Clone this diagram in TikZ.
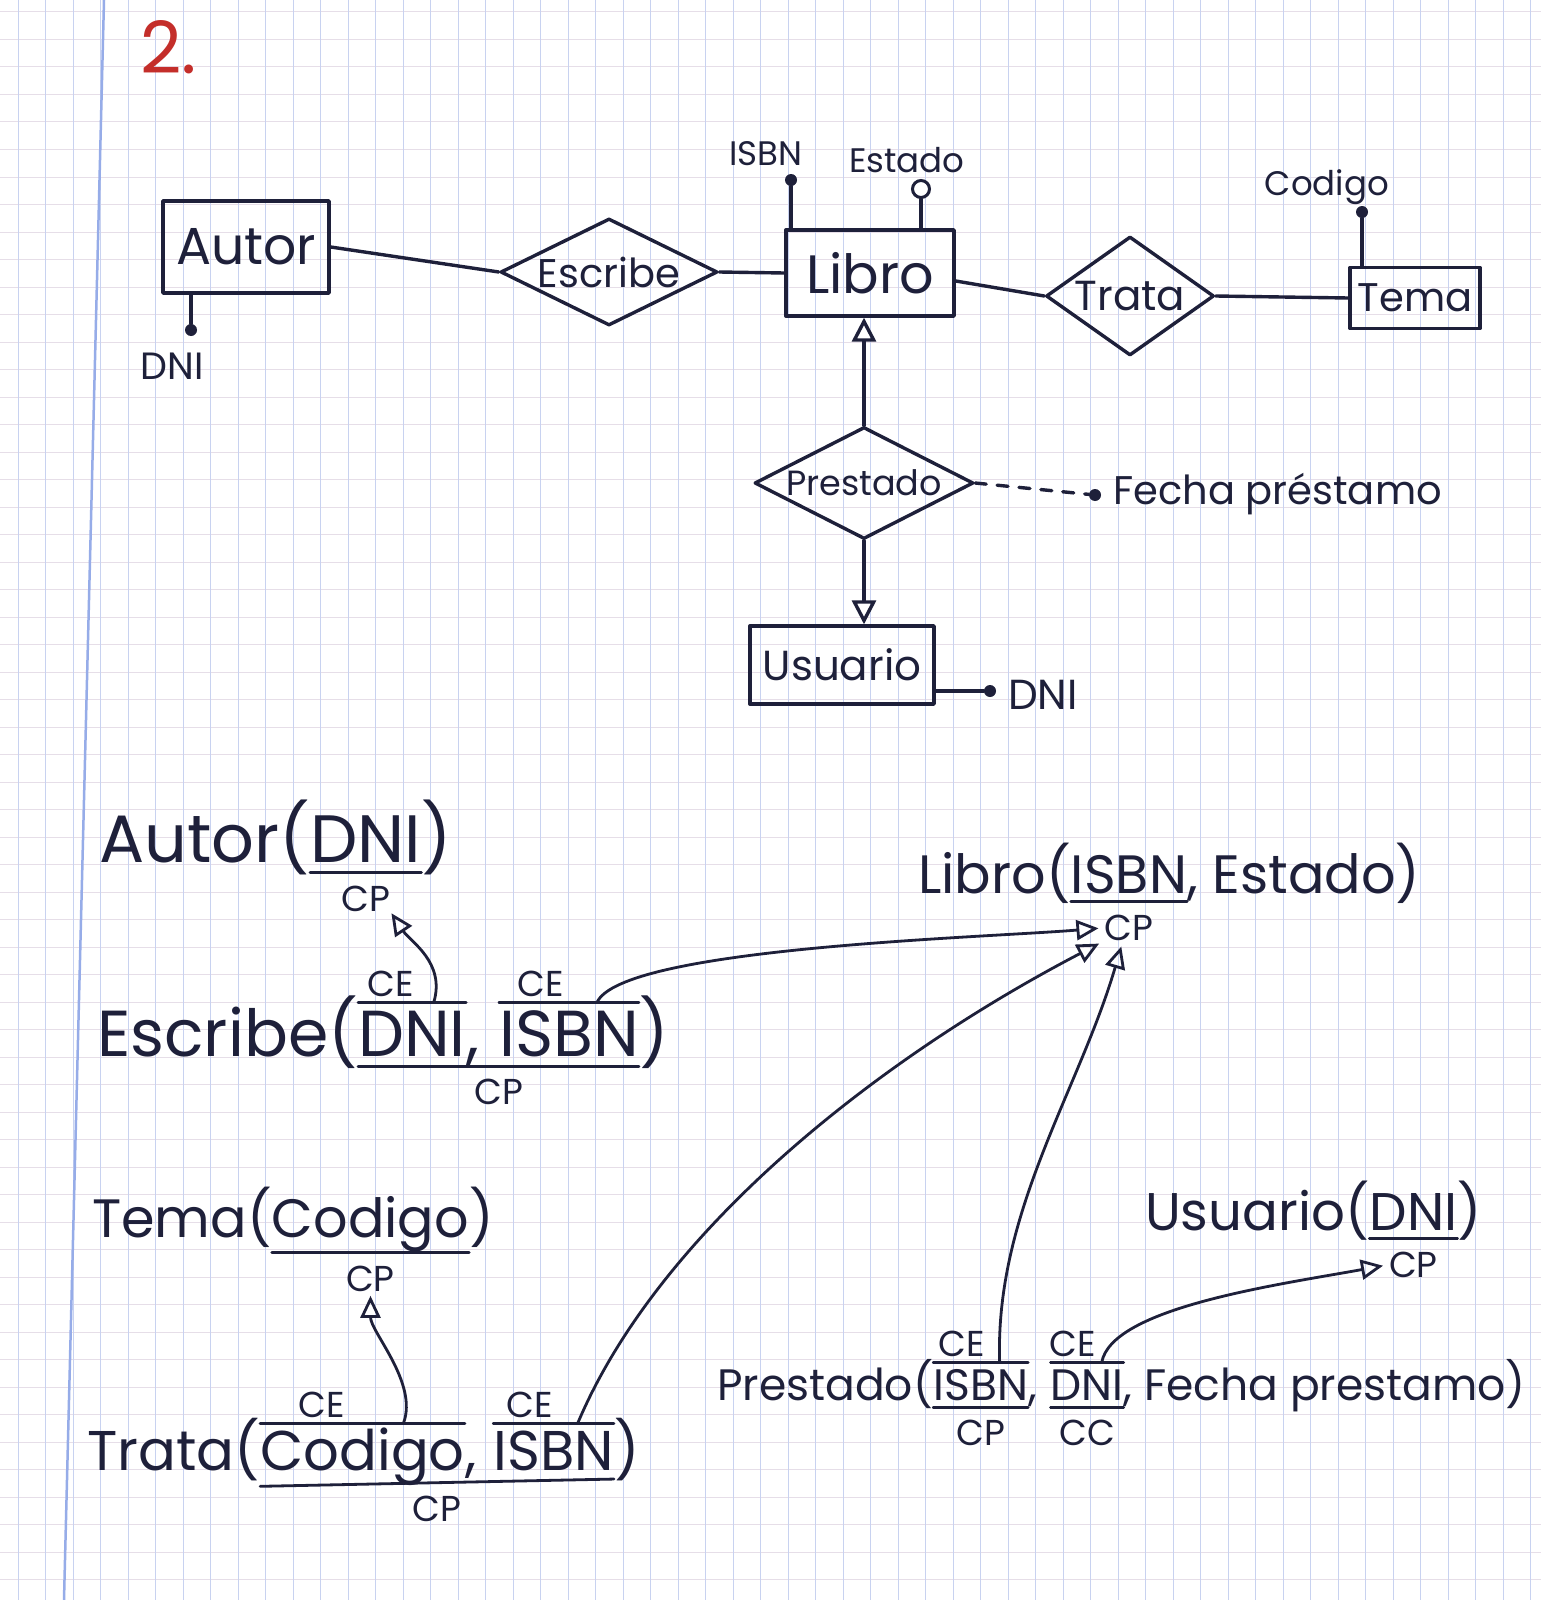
\documentclass[tikz,border=0pt]{standalone}
\usepackage{fontspec}
\setmainfont{Poppins}
\usetikzlibrary{shapes.geometric,arrows.meta,calc}
\definecolor{ink}{RGB}{30,32,58}
\definecolor{redink}{RGB}{196,46,42}
\definecolor{gridv}{RGB}{200,210,240}
\definecolor{gridh}{RGB}{230,222,232}
\definecolor{marginline}{RGB}{150,172,232}

% overline over a key word, with its CE tag and the start point of its reference arrow
\newcommand\ovkey[1]{%
  \draw[inkthin] ([yshift=4pt]#1.north west) coordinate (#1-ol) -- ([yshift=4pt]#1.north east) coordinate (#1-or);
  \node[keytag,anchor=south] (#1-ce) at ($(#1-ol)!0.3!(#1-or)+(0,-5)$) {CE};
  \coordinate (#1-tail) at ($(#1-ol)!0.7!(#1-or)$);
}
% underline from word #1 to word #2 with the tag #3 below it
\newcommand\unkey[3]{%
  \draw[inkthin] ([yshift=-1pt]#1.south west) coordinate (#1-ul) -- ([yshift=-1pt]#2.south east) coordinate (#1-ur);
  \node[keytag,anchor=north] (#1-cp) at ($(#1-ul)!0.5!(#1-ur)+(0,13)$) {#3};
}

\begin{document}
\begin{tikzpicture}[x=1pt,y=-1pt,
  fs/.style={font=\fontsize{#1}{#1}\selectfont},
  inkline/.style={draw=ink,line width=3.4pt,line cap=round,line join=round},
  inkthin/.style={draw=ink,line width=2.8pt,line cap=round,line join=round},
  entity/.style={inkline,rectangle,inner sep=0pt,text=ink},
  relship/.style={inkline,diamond,inner sep=0pt},
  lbl/.style={text=ink,inner sep=0pt},
  keydot/.style={circle,fill=ink,inner sep=0pt,minimum size=12pt},
  optdot/.style={circle,draw=ink,line width=3pt,fill=white,inner sep=0pt,minimum size=17pt},
  isa/.style={-{Triangle[open,length=24pt,width=24pt]}},
  word/.style={text=ink,inner sep=0pt,anchor=base west,
    execute at begin node={\rule[-0.14\baselineskip]{0pt}{0.90\baselineskip}}},
  keytag/.style={text=ink,inner sep=0pt,fs=36},
  fk/.style={inkthin,-{Triangle[open,length=22pt,width=20pt]}},
]
% paper
\fill[white] (0,0) rectangle (1541,1600);
\useasboundingbox (0,0) rectangle (1541,1600);
\foreach \y in {12,39.5,...,1600} \draw[gridh,line width=1pt] (0,\y) -- (1541,\y);
\foreach \x in {18,45.5,...,1541} \draw[gridv,line width=1pt] (\x,0) -- (\x,1600);
\draw[marginline,line width=2.5pt] (104,0) -- (64,1600);

% exercise number
\node[text=redink,fs=72,anchor=base west,inner sep=0pt] (num) at (140,74) {2.};

% ---------------- entity-relationship diagram ----------------
\node[entity,fs=52,minimum width=166pt,minimum height=92pt] (autor) at (246,247) {Autor};
\node[relship,minimum width=217pt,minimum height=107pt] (escribe) at (609,272) {};
\node[lbl,fs=40] at (escribe) {Escribe};
\node[entity,fs=54,minimum width=168pt,minimum height=86pt] (libro) at (870,273) {Libro};
\node[relship,minimum width=168pt,minimum height=119pt] (trata) at (1130,296) {};
\node[lbl,fs=42] at (trata) {Trata};
\node[entity,fs=40,minimum width=130pt,minimum height=61pt] (tema) at (1415,298) {Tema};
\node[relship,minimum width=219pt,minimum height=112pt] (prestado) at (864,483) {};
\node[lbl,fs=35] at (prestado) {Prestado};
\node[entity,fs=42,minimum width=184pt,minimum height=78pt] (usuario) at (842,665) {Usuario};

\draw[inkline] (autor.east) -- (escribe.west);
\draw[inkline] (escribe.east) -- (libro.west);
\draw[inkline] ([yshift=-8pt]libro.east) -- (trata.west);
\draw[inkline] (trata.east) -- (tema.west);
\draw[inkline,isa] (prestado.north) -- (prestado.north |- libro.south);
\draw[inkline,isa] (prestado.south) -- (prestado.south |- usuario.north);

% attributes
\node[keydot] (autorDni) at (191,330) {};
\draw[inkline] (autorDni) -- (autorDni |- autor.south);
\node[lbl,fs=38] (autorDniLbl) at (172,366) {DNI};

\node[keydot] (libroIsbn) at (791,180) {};
\draw[inkline] (libroIsbn) -- (libroIsbn |- libro.north);
\node[lbl,fs=34] (libroIsbnLbl) at (766,154) {ISBN};

\node[optdot] (libroEstado) at (921,189) {};
\draw[inkline] (libroEstado.south) -- (libroEstado |- libro.north);
\node[lbl,fs=34] (libroEstadoLbl) at (907,160) {Estado};

\node[keydot] (temaCod) at (1362,212) {};
\draw[inkline] (temaCod) -- (temaCod |- tema.north);
\node[lbl,fs=34] (temaCodLbl) at (1327,187) {Codigo};

\node[keydot] (fecha) at (1095,495) {};
\draw[inkline,dash pattern=on 11pt off 11pt] (prestado.east) -- (fecha);
\node[lbl,fs=40,anchor=west] (fechaLbl) at (1113,494) {Fecha préstamo};

\node[keydot] (usuarioDni) at (990,691) {};
\draw[inkline] (usuarioDni -| usuario.east) -- (usuarioDni);
\node[lbl,fs=42,anchor=west] (usuarioDniLbl) at (1008,695) {DNI};

% ---------------- relational schema ----------------
% Autor(DNI)
\node[word,fs=67] (rAutor) at (99,862) {Autor(};
\node[word,fs=67,at=(rAutor.base east)] (rAutorDni) {DNI};
\node[word,fs=67,at=(rAutorDni.base east)] (rAutorEnd) {)};
\unkey{rAutorDni}{rAutorDni}{CP}

% Libro(ISBN, Estado)
\node[word,fs=54] (rLibro) at (918,893) {Libro(};
\node[word,fs=54,at=(rLibro.base east)] (rLibroIsbn) {ISBN};
\node[word,fs=54,at=(rLibroIsbn.base east)] (rLibroEnd) {, Estado)};
\unkey{rLibroIsbn}{rLibroIsbn}{CP}

% Escribe(DNI, ISBN)
\node[word,fs=65] (rEsc) at (97,1056) {Escribe(};
\node[word,fs=65,at=(rEsc.base east)] (rEscDni) {DNI};
\node[word,fs=65,at=(rEscDni.base east)] (rEscSep) {,\kern0.3em};
\node[word,fs=65,at=(rEscSep.base east)] (rEscIsbn) {ISBN};
\node[word,fs=65,at=(rEscIsbn.base east)] (rEscEnd) {)};
\ovkey{rEscDni}
\ovkey{rEscIsbn}
\unkey{rEscDni}{rEscIsbn}{CP}

% Tema(Codigo)
\node[word,fs=54] (rTema) at (92,1237) {Tema(};
\node[word,fs=54,at=(rTema.base east)] (rTemaCod) {Codigo};
\node[word,fs=54,at=(rTemaCod.base east)] (rTemaEnd) {)};
\unkey{rTemaCod}{rTemaCod}{CP}

% Usuario(DNI)
\node[word,fs=53] (rUsu) at (1145,1230) {Usuario(};
\node[word,fs=53,at=(rUsu.base east)] (rUsuDni) {DNI};
\node[word,fs=53,at=(rUsuDni.base east)] (rUsuEnd) {)};
\unkey{rUsuDni}{rUsuDni}{CP}

% Prestado(ISBN, DNI, Fecha prestamo)
\node[word,fs=44] (rPre) at (717,1400) {Prestado(};
\node[word,fs=44,at=(rPre.base east)] (rPreIsbn) {ISBN};
\node[word,fs=44,at=(rPreIsbn.base east)] (rPreSep) {,\kern0.3em};
\node[word,fs=44,at=(rPreSep.base east)] (rPreDni) {DNI};
\node[word,fs=44,at=(rPreDni.base east)] (rPreEnd) {, Fecha prestamo)};
\ovkey{rPreIsbn}
\ovkey{rPreDni}
\unkey{rPreIsbn}{rPreIsbn}{CP}
\unkey{rPreDni}{rPreDni}{CC}

% Trata(Codigo, ISBN)
\node[word,fs=56] (rTra) at (87,1470) {Trata(};
\node[word,fs=56,at=(rTra.base east)] (rTraCod) {Codigo};
\node[word,fs=56,at=(rTraCod.base east)] (rTraSep) {,\kern0.3em};
\node[word,fs=56,at=(rTraSep.base east)] (rTraIsbn) {ISBN};
\node[word,fs=56,at=(rTraIsbn.base east)] (rTraEnd) {)};
\ovkey{rTraCod}
\ovkey{rTraIsbn}
\unkey{rTraCod}{rTraIsbn}{CP}

% foreign keys
\draw[fk,shorten >=2pt] (rEscDni-tail) .. controls ($(rEscDni-tail)+(12,-40)$) and ($(rAutorDni-cp.south east)+(20,30)$) .. (rAutorDni-cp.south east);
\draw[fk,shorten >=6pt] (rEscIsbn-tail) .. controls ($(rEscIsbn-tail)+(25,-55)$) and ($(rLibroIsbn-cp.west)+(-120,10)$) .. (rLibroIsbn-cp.west);
\draw[fk,shorten >=6pt] (rTraIsbn-tail) .. controls ($(rTraIsbn-tail)+(80,-190)$) and ($(rLibroIsbn-cp.south west)+(-230,120)$) .. (rLibroIsbn-cp.south west);
\draw[fk,shorten >=6pt] (rPreIsbn-tail) .. controls ($(rPreIsbn-tail)+(-5,-150)$) and ($(rLibroIsbn-cp.south)+(-50,150)$) .. ([xshift=-6pt]rLibroIsbn-cp.south);
\draw[fk,shorten >=6pt] (rPreDni-tail) .. controls ($(rPreDni-tail)+(10,-55)$) and ($(rUsuDni-cp.west)+(-110,20)$) .. (rUsuDni-cp.west);
\draw[fk,shorten >=4pt] (rTraCod-tail) .. controls ($(rTraCod-tail)+(15,-40)$) and ($(rTemaCod-cp.south)+(0,40)$) .. (rTemaCod-cp.south);
\end{tikzpicture}
\end{document}
